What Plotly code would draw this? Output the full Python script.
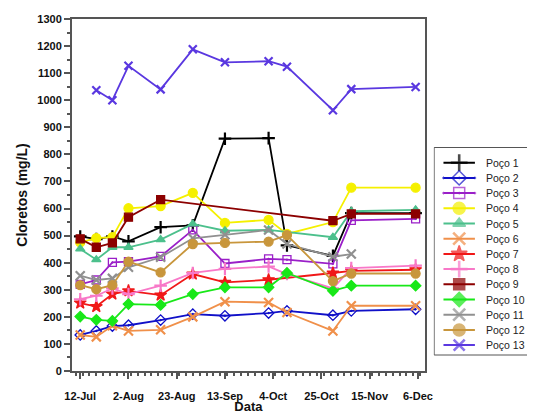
import plotly.graph_objects as go

# Sampling dates
dates = ["2014-07-12", "2014-07-19", "2014-07-26", "2014-08-02", "2014-08-16",
         "2014-08-30", "2014-09-13", "2014-10-02", "2014-10-10", "2014-10-30",
         "2014-11-07", "2014-12-05"]

# Chloride concentration (mg/L) per well
poco1 = [497, 487, 497, 479, 531, 538, 858, 860, 464, 425, 583, 583]
poco2 = [133, 148, 166, 169, 188, 210, 204, 214, 222, 206, 222, 228]
poco3 = [320, 336, 401, 404, 423, 521, 397, 414, 411, 396, 556, 562]
poco4 = [475, 491, 494, 601, 609, 658, 547, 558, 506, 550, 677, 677]
poco5 = [451, 411, 457, 457, 485, 543, 518, 521, None, 494, 590, 595]
poco6 = [133, 126, 167, 148, 152, 200, 256, 253, 216, 148, 241, 241]
poco7 = [251, 238, 284, 296, 280, 358, 327, 337, None, 362, 370, 374]
poco8 = [265, 278, 305, 284, 315, 362, 377, 386, 358, 305, 380, 389]
poco9 = [488, 457, 473, 568, 633, None, None, None, None, 555, 580, 580]
poco10 = [201, 189, 185, 247, 244, 284, 309, 309, 362, 296, 315, 315]
poco11 = [352, 336, 342, 383, 420, 490, 503, 521, 469, 422, 432, None]
poco12 = [317, 302, 317, 404, 364, 469, 473, 478, 502, 332, 360, 360]
poco13 = [None, 1037, 1000, 1127, 1040, 1188, 1140, 1144, 1124, 963, 1041, 1049]

names = ["Poço 1", "Poço 2", "Poço 3", "Poço 4", "Poço 5", "Poço 6", "Poço 7",
         "Poço 8", "Poço 9", "Poço 10", "Poço 11", "Poço 12", "Poço 13"]
series = [poco1, poco2, poco3, poco4, poco5, poco6, poco7, poco8, poco9,
          poco10, poco11, poco12, poco13]

colors = ["#000000", "#1010C8", "#9A1FC8", "#F5F000", "#4CC08C", "#F0904A",
          "#F01818", "#F878C8", "#8C0000", "#18E818", "#909090", "#C8963C",
          "#5A38E0"]
symbols = ["cross-thin", "diamond-open-dot", "square-open-dot", "circle",
           "triangle-up", "x-thin", "star", "cross-thin", "square", "diamond",
           "x-thin", "circle", "x-thin"]
sizes = [9, 8, 8, 9, 8, 9, 9, 9, 8, 8, 9, 9, 8]

FONT = "Liberation Sans, Arial, sans-serif"
MAIN_W = 359 / 463          # main plot width as a fraction of the drawing area

fig = go.Figure()

# data series
for name, ys, c, s, sz in zip(names, series, colors, symbols, sizes):
    thin = s.endswith("-thin")
    fig.add_trace(go.Scatter(
        x=dates, y=ys, name=name, mode="lines+markers", connectgaps=True,
        showlegend=False,
        line=dict(color=c, width=1.8),
        marker=dict(symbol=s, size=sz, color=c,
                    line=dict(color=c, width=2.2 if thin else 1.3)),
    ))

# legend panel drawn on its own hidden axes (pixel-like units, y downward)
ROW0, ROW_STEP = 15.7, 15.2
for i, (name, c, s, sz) in enumerate(zip(names, colors, symbols, sizes)):
    thin = s.endswith("-thin")
    yy = ROW0 + ROW_STEP * i
    fig.add_trace(go.Scatter(
        x=[10, 26, 42], y=[yy, yy, yy], xaxis="x2", yaxis="y2",
        mode="lines+markers", showlegend=False, hoverinfo="skip",
        line=dict(color=c, width=2),
        marker=dict(symbol=s, size=[0, sz + 3, 0], color=c,
                    line=dict(color=c, width=2.6 if thin else 1.5)),
    ))
    fig.add_annotation(x=51, y=yy, xref="x2", yref="y2", text=name,
                       showarrow=False, xanchor="left", yanchor="middle",
                       font=dict(family=FONT, size=10.5, color="#222222"))

fig.add_shape(type="rect", xref="x2", yref="y2", x0=0.5, x1=97, y0=0.5, y1=208,
              line=dict(color="#555555", width=1), fillcolor="rgba(0,0,0,0)",
              layer="below")

tick_font = dict(family=FONT, size=11, color="#111111")

fig.update_layout(
    width=535, height=414,
    margin=dict(l=72, r=0, t=19, b=43),
    paper_bgcolor="white", plot_bgcolor="white",
    font=dict(family=FONT, color="#111111"),
    showlegend=False,
    xaxis=dict(
        domain=[0, MAIN_W],
        type="date",
        range=["2014-07-08 10:00", "2014-12-09"],
        tick0="2014-07-12", dtick=21 * 86400000, tickformat="%-d-%b",
        ticks="outside", ticklen=6, tickwidth=1.5, tickcolor="#555555",
        minor=dict(dtick=3 * 86400000, ticks="outside", ticklen=3, tickcolor="#555555"),
        showline=True, linecolor="#555555", linewidth=2, mirror=True,
        showgrid=False, zeroline=False,
        tickfont=tick_font, ticklabelstandoff=8,
        tickprefix="<b>", ticksuffix="</b>",
        title=dict(text="<b>Data</b>", font=dict(family=FONT, size=13), standoff=0),
    ),
    yaxis=dict(
        range=[0, 1300], dtick=100,
        ticks="outside", ticklen=6, tickwidth=1.5, tickcolor="#555555",
        minor=dict(dtick=50, ticks="outside", ticklen=3, tickcolor="#555555"),
        showline=True, linecolor="#555555", linewidth=2, mirror=True,
        showgrid=False, zeroline=False,
        tickfont=tick_font,
        tickprefix="<b>", ticksuffix="</b>",
        title=dict(text="<b>Cloretos (mg/L)</b>", font=dict(family=FONT, size=14), standoff=6),
    ),
    xaxis2=dict(domain=[368 / 463, 1.0], range=[0, 95], visible=False,
                fixedrange=True, anchor="y2"),
    yaxis2=dict(domain=[15 / 352, 224 / 352], range=[209, 0], visible=False,
                fixedrange=True, anchor="x2"),
)

fig.write_html("out.html")
